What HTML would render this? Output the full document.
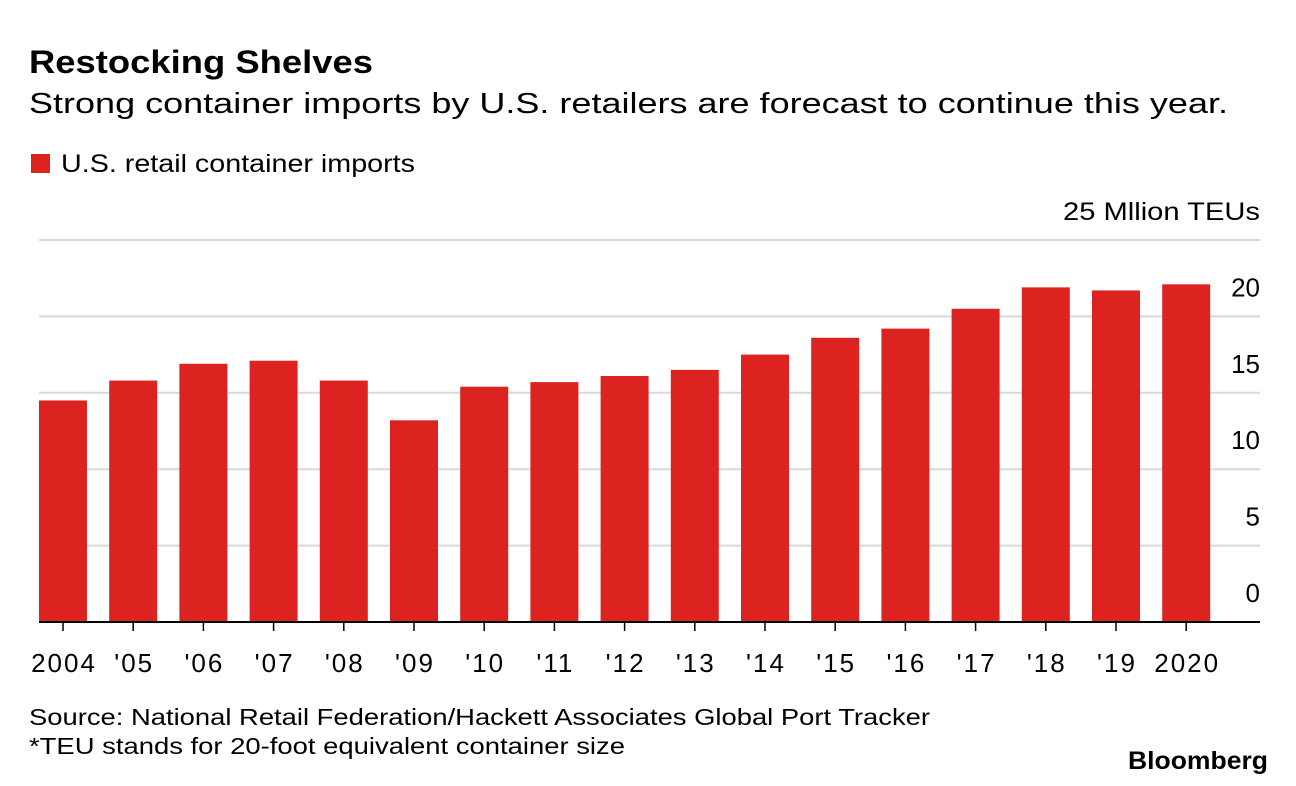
<!DOCTYPE html>
<html><head><meta charset="utf-8"><style>
body{margin:0;background:#fff;font-family:"Liberation Sans",sans-serif;color:#000}
svg{display:block}
</style></head><body>
<svg width="1296" height="786" id="c">
<text x="29" y="73" font-size="32" font-weight="bold" textLength="344" lengthAdjust="spacingAndGlyphs">Restocking Shelves</text>
<text x="29" y="113" font-size="29" textLength="1199" lengthAdjust="spacingAndGlyphs">Strong container imports by U.S. retailers are forecast to continue this year.</text>
<rect x="31" y="154" width="19" height="19" fill="#dd2320"/>
<text x="61" y="172" font-size="25" textLength="354" lengthAdjust="spacingAndGlyphs">U.S. retail container imports</text>
<text x="1063" y="220" font-size="25" textLength="197" lengthAdjust="spacingAndGlyphs">25 Mllion TEUs</text>
<g id="grid"></g><g id="bars"></g><g id="xaxis"></g>
<text x="29" y="725" font-size="23" textLength="901" lengthAdjust="spacingAndGlyphs">Source: National Retail Federation/Hackett Associates Global Port Tracker</text>
<text x="29" y="754" font-size="23" textLength="596" lengthAdjust="spacingAndGlyphs">*TEU stands for 20-foot equivalent container size</text>
<text x="1128" y="769" font-size="25" font-weight="bold" textLength="140" lengthAdjust="spacingAndGlyphs">Bloomberg</text>
</svg>
<script>
const categories=["2004","'05","'06","'07","'08","'09","'10","'11","'12","'13","'14","'15","'16","'17","'18","'19","2020"];
const values=[14.5,15.8,16.9,17.1,15.8,13.2,15.4,15.7,16.1,16.5,17.5,18.6,19.2,20.5,21.9,21.7,22.1];
const yTicks=[0,5,10,15,20];
const NS="http://www.w3.org/2000/svg";
const y=v=>622-v*15.28;
const x=i=>39+i*70.2;
const bw=48;
function mk(t,a,p){const e=document.createElementNS(NS,t);for(const k in a)e.setAttribute(k,a[k]);p.appendChild(e);return e;}
const grid=document.getElementById('grid'),bars=document.getElementById('bars'),xa=document.getElementById('xaxis');
const gl=mk('line',{x1:39,x2:1260,y1:y(25),y2:y(25),stroke:'#d9d9d9','stroke-width':2},grid);


yTicks.forEach(t=>{
 if(t>0){const l=mk('line',{x1:39,x2:1260,y1:y(t),y2:y(t),stroke:'#d9d9d9','stroke-width':2},grid);
 
 }
 const tx=mk('text',{x:1260,y:y(t)-20,'font-size':26,'text-anchor':'end'},grid);
 tx.textContent=t;
 
 
});
values.forEach((v,i)=>{
 const r=mk('rect',{x:x(i),y:y(v),width:bw,height:622-y(v),fill:'#dd2320'},bars);
 
 
 const tk=mk('line',{x1:x(i)+bw/2,x2:x(i)+bw/2,y1:622,y2:631,stroke:'#000','stroke-width':1.5},xa);
 
 
 const lb=mk('text',{x:x(i)+bw/2+1,y:672,'font-size':26,'text-anchor':'middle','letter-spacing':'2'},xa);
 lb.textContent=categories[i];
 
 
});
const base=mk('line',{x1:39,x2:1260,y1:622,y2:622,stroke:'#000','stroke-width':2},xa);


</script>
</body></html>
